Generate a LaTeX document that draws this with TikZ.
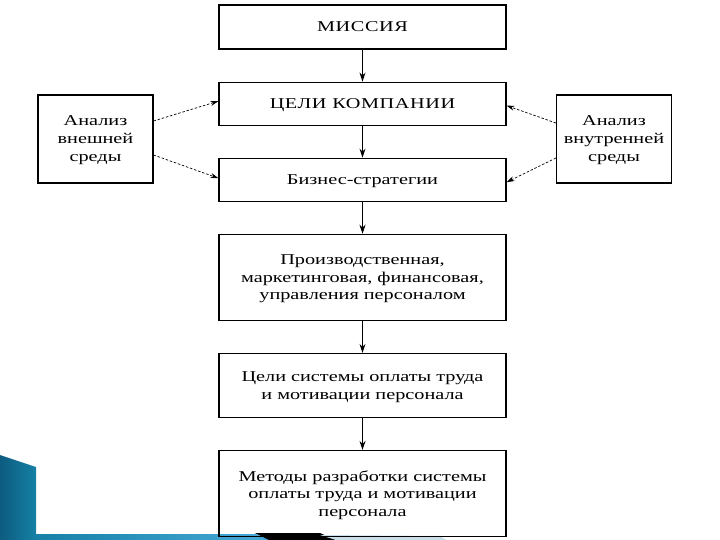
\documentclass[tikz,border=0pt]{standalone}
\usepackage{fontspec}
\setmainfont{Liberation Serif}[FakeStretch=1.35]
\usetikzlibrary{positioning,arrows.meta}
\definecolor{tealdark}{RGB}{12,92,128}
\definecolor{tealmid}{RGB}{22,128,165}
\definecolor{skyblue}{RGB}{70,170,215}
\definecolor{skyband}{RGB}{200,222,234}

\begin{document}
\begin{tikzpicture}[x=1pt, y=1pt, node distance=32pt,
 box/.style={draw, line width=1.1pt, minimum width=287pt, inner sep=0pt, text depth=0pt,
  align=center, font=\fontsize{15}{17.5}\selectfont},
 sidebox/.style={draw, line width=1.1pt, minimum width=115pt, minimum height=88pt,
  inner sep=0pt, text depth=0pt, align=center, font=\fontsize{15}{18}\selectfont},
 link/.style={-{Stealth[length=9pt,width=6pt]}, line width=0.9pt},
 feed/.style={-{Stealth[length=8pt,width=5pt]}, line width=0.7pt, dash pattern=on 2.5pt off 1.8pt}]
\useasboundingbox[fill=white] (0,0) rectangle (720,-540);
% slide decoration
\shade[left color=tealdark, right color=tealmid]
 (0,-455) -- (36,-467) -- (36,-540) -- (0,-540) -- cycle;
\shade[left color=tealmid, right color=skyblue]
 (36,-534) -- (256,-534) -- (270,-540) -- (36,-540) -- cycle;
\fill[black] (255,-533) -- (320,-533) -- (336,-540) -- (269,-540) -- cycle;
\fill[skyband] (320,-535) -- (440,-536) -- (446,-540) -- (336,-540) -- cycle;
% main column
\node [box, minimum height=44pt] (mission) at (362.5,-27) {\addfontfeature{LetterSpace=4}МИССИЯ};
\node [box, minimum height=43pt] (goals) [below = of mission] {\addfontfeature{LetterSpace=4}ЦЕЛИ КОМПАНИИ};
\node [box, minimum height=43pt] (biz) [below = of goals] {Бизнес-стратегии};
\node [box, minimum height=86pt] (func) [below = of biz] {Производственная,\\маркетинговая, финансовая,\\управления персоналом};
\node [box, minimum height=64pt] (paygoals) [below = of func] {Цели системы оплаты труда\\и мотивации персонала};
\node [box, minimum height=86pt] (methods) [below = of paygoals] {Методы разработки системы\\оплаты труда и мотивации\\персонала};
% analysis boxes
\node [sidebox] (ext) at (95.5,-139) {Анализ\\внешней\\среды};
\node [sidebox] (int) at (614,-139) {Анализ\\внутренней\\среды};
\path [link]
 (mission) edge (goals)
 (goals) edge (biz)
 (biz) edge (func)
 (func) edge (paygoals)
 (paygoals) edge (methods);
\path [feed]
 ([yshift=18pt]ext.east) edge ([yshift=2.5pt]goals.west)
 ([yshift=-16pt]ext.east) edge ([yshift=1.5pt]biz.west)
 ([yshift=16pt]int.west) edge ([yshift=-2pt]goals.east)
 ([yshift=-19pt]int.west) edge ([yshift=-2.5pt]biz.east);
\end{tikzpicture}
\end{document}
